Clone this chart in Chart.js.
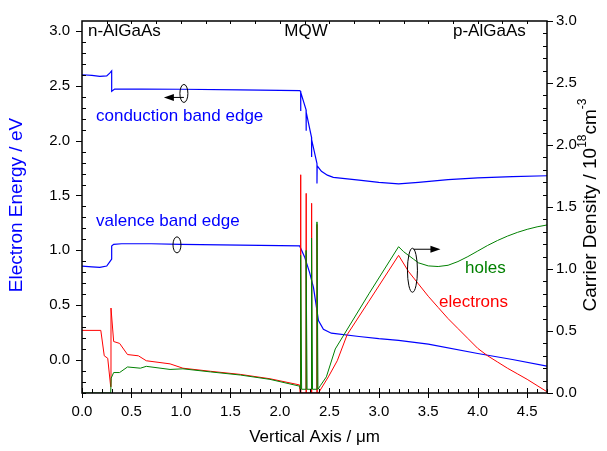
<!DOCTYPE html>
<html>
<head>
<meta charset="utf-8">
<script src="https://cdn.jsdelivr.net/npm/chart.js@4/dist/chart.umd.min.js"></script>
<style>
  html, body { margin: 0; padding: 0; background: #fff; }
  canvas { display: block; }
</style>
</head>
<body>
<canvas id="bandChart" width="607" height="451"></canvas>
<script>
// --- data ---
// conduction band edge (left axis, eV)
const cbX = [0.00, 0.10, 0.18, 0.25, 0.28, 0.30, 0.30, 0.33, 0.60, 1.00, 1.60, 2.20, 2.21, 2.21, 2.212,
  2.265, 2.265, 2.267, 2.32, 2.32, 2.322, 2.375, 2.375, 2.377, 2.42, 2.48, 2.54, 2.80, 3.00, 3.20, 3.40,
  3.70, 4.00, 4.35, 4.70];
const cbE = [2.60, 2.595, 2.585, 2.59, 2.615, 2.635, 2.45, 2.47, 2.47, 2.468, 2.463, 2.455, 2.45, 2.27, 2.44,
  2.28, 2.09, 2.26, 2.03, 1.85, 2.01, 1.79, 1.61, 1.77, 1.72, 1.685, 1.665, 1.64, 1.62, 1.605, 1.62,
  1.645, 1.66, 1.672, 1.68];

// valence band edge (left axis, eV)
const vbX = [0.00, 0.10, 0.18, 0.25, 0.28, 0.30, 0.30, 0.32, 0.40, 0.70, 1.00, 1.60, 2.20, 2.25, 2.30,
  2.34, 2.37, 2.39, 2.44, 2.52, 2.80, 3.00, 3.20, 3.50, 4.00, 4.35, 4.70];
const vbE = [0.857, 0.85, 0.845, 0.857, 0.895, 0.92, 1.04, 1.055, 1.06, 1.06, 1.055, 1.048, 1.04, 0.94, 0.80,
  0.66, 0.48, 0.36, 0.28, 0.245, 0.215, 0.195, 0.18, 0.145, 0.06, 0.005, -0.055];

// electrons (right axis, 10^18 cm^-3)
const elX = [0.00, 0.19, 0.225, 0.26, 0.29, 0.293, 0.32, 0.38, 0.46, 0.57, 0.65, 0.89, 1.02, 1.30, 1.60,
  1.90, 2.20, 2.205, 2.21, 2.21, 2.212, 2.265, 2.265, 2.267, 2.32, 2.32, 2.322, 2.375, 2.375, 2.377,
  2.39, 2.49, 2.58, 2.68, 2.90, 3.20, 3.30, 3.40, 3.50, 3.60, 3.70, 3.80, 3.90, 4.00, 4.10, 4.20,
  4.30, 4.40, 4.50, 4.60, 4.70];
const elN = [0.505, 0.505, 0.30, 0.28, 0.05, 0.685, 0.415, 0.40, 0.31, 0.30, 0.26, 0.235, 0.20, 0.175, 0.15,
  0.115, 0.065, 0.0, 0.0, 1.76, 0.0, 0.0, 1.61, 0.0, 0.0, 1.53, 0.0, 0.0, 1.36, 0.0,
  0.0, 0.13, 0.26, 0.47, 0.74, 1.11, 0.98, 0.88, 0.78, 0.69, 0.60, 0.52, 0.44, 0.36, 0.30, 0.25,
  0.20, 0.155, 0.11, 0.06, 0.01];

// holes (right axis, 10^18 cm^-3)
const hoX = [0.00, 0.29, 0.295, 0.32, 0.38, 0.46, 0.59, 0.65, 0.89, 1.02, 1.30, 1.60, 1.90, 2.20, 2.205,
  2.21, 2.21, 2.22, 2.265, 2.265, 2.275, 2.32, 2.32, 2.33, 2.375, 2.375, 2.385, 2.41, 2.47, 2.56,
  2.64, 2.90, 3.20, 3.25, 3.30, 3.35, 3.40, 3.50, 3.60, 3.70, 3.80, 3.90, 4.00, 4.10, 4.20, 4.30,
  4.40, 4.50, 4.60, 4.70];
const hoN = [0.0, 0.0, 0.12, 0.165, 0.165, 0.21, 0.20, 0.215, 0.19, 0.195, 0.17, 0.145, 0.11, 0.055, 0.03,
  0.03, 1.11, 0.03, 0.03, 1.15, 0.03, 0.03, 1.25, 0.03, 0.03, 1.38, 0.03, 0.06, 0.13, 0.355,
  0.46, 0.80, 1.18, 1.14, 1.11, 1.08, 1.05, 1.025, 1.02, 1.03, 1.06, 1.10, 1.145, 1.19, 1.23, 1.265,
  1.295, 1.32, 1.34, 1.355];

// tick labels
const xTicks = [0.0, 0.5, 1.0, 1.5, 2.0, 2.5, 3.0, 3.5, 4.0, 4.5];
const leftTicks = [0.0, 0.5, 1.0, 1.5, 2.0, 2.5, 3.0];
const rightTicks = [0.0, 0.5, 1.0, 1.5, 2.0, 2.5, 3.0];

const FONT = '"Liberation Sans", Arial, Helvetica, sans-serif';
const BLUE = '#0000ff';
const RED = '#ff0000';
const GREEN = '#008000';

const toPoints = (xs, ys) => xs.map((x, i) => ({ x: x, y: ys[i] }));

// --- frame, ticks, titles and annotations ---
const decorations = {
  id: 'decorations',
  afterDraw(chart) {
    const { ctx, chartArea: a, scales } = chart;
    const sx = scales.x, sl = scales.y, sr = scales.y1;
    ctx.save();

    // frame
    ctx.strokeStyle = '#000';
    ctx.lineWidth = 1.5;
    ctx.strokeRect(a.left, a.top, a.right - a.left, a.bottom - a.top);

    ctx.lineWidth = 1;
    ctx.beginPath();
    // bottom axis: major out, minor in
    for (let i = 0; i <= 47; i++) {
      const px = Math.round(sx.getPixelForValue(i / 10)) + 0.5;
      if (i % 5 === 0) { ctx.moveTo(px, a.bottom - 5); ctx.lineTo(px, a.bottom + 5); }
      else { ctx.moveTo(px, a.bottom); ctx.lineTo(px, a.bottom - 4); }
    }
    // top axis: small ticks every 0.25
    for (let i = 1; i <= 18; i++) {
      const px = Math.round(sx.getPixelForValue(i * 0.25)) + 0.5;
      ctx.moveTo(px, a.top); ctx.lineTo(px, a.top + 3);
    }
    // left axis
    for (let i = -3; i <= 30; i++) {
      const py = Math.round(sl.getPixelForValue(i / 10)) + 0.5;
      if (i % 5 === 0) { ctx.moveTo(a.left - 6, py); ctx.lineTo(a.left, py); }
      else { ctx.moveTo(a.left, py); ctx.lineTo(a.left + 4, py); }
    }
    // right axis
    for (let i = 0; i <= 30; i++) {
      const py = Math.round(sr.getPixelForValue(i / 10)) + 0.5;
      if (i % 5 === 0) { ctx.moveTo(a.right, py); ctx.lineTo(a.right + 6, py); }
      else { ctx.moveTo(a.right - 4, py); ctx.lineTo(a.right, py); }
    }
    ctx.stroke();

    // axis titles
    ctx.font = '17px ' + FONT;
    ctx.textBaseline = 'middle';
    ctx.textAlign = 'center';
    ctx.fillStyle = '#000';
    ctx.fillText('Vertical Axis / \u03bcm', (a.left + a.right) / 2, 437);

    ctx.save();
    ctx.translate(17, 205);
    ctx.rotate(-Math.PI / 2);
    ctx.font = '19px ' + FONT;
    ctx.fillStyle = BLUE;
    ctx.fillText('Electron Energy / eV', 0, 0);
    ctx.restore();

    // right title with superscripts
    ctx.save();
    ctx.translate(591, 205);
    ctx.rotate(-Math.PI / 2);
    ctx.fillStyle = '#000';
    ctx.textAlign = 'left';
    const parts = [
      { t: 'Carrier Density / 10', sup: false },
      { t: '18', sup: true },
      { t: 'cm', sup: false },
      { t: '-3', sup: true }
    ];
    const fontFor = (p) => (p.sup ? '12px ' : '19px ') + FONT;
    let total = 0;
    parts.forEach(p => { ctx.font = fontFor(p); total += ctx.measureText(p.t).width; });
    let cx = -total / 2;
    parts.forEach(p => {
      ctx.font = fontFor(p);
      ctx.fillText(p.t, cx, p.sup ? -8 : 0);
      cx += ctx.measureText(p.t).width;
    });
    ctx.restore();

    // region labels
    ctx.font = '17px ' + FONT;
    ctx.fillStyle = '#000';
    ctx.textAlign = 'left';
    ctx.fillText('n-AlGaAs', 88, 31);
    ctx.fillText('p-AlGaAs', 453, 31);
    ctx.textAlign = 'center';
    ctx.fillText('MQW', 306, 31);

    // curve labels
    ctx.textAlign = 'left';
    ctx.fillStyle = BLUE;
    ctx.fillText('conduction band edge', 96, 116);
    ctx.fillText('valence band edge', 96, 221);
    ctx.fillStyle = GREEN;
    ctx.fillText('holes', 465, 268);
    ctx.fillStyle = RED;
    ctx.fillText('electrons', 439, 302);

    // ellipse markers with arrows (placed in data units)
    ctx.strokeStyle = '#000';
    ctx.fillStyle = '#000';
    ctx.lineWidth = 1;
    const ellipse = (x, y, rx, ry) => {
      ctx.beginPath();
      ctx.ellipse(x, y, rx, ry, 0, 0, Math.PI * 2);
      ctx.stroke();
    };
    const arrow = (x1, y1, x2, y2) => {
      const dir = Math.sign(x2 - x1);
      ctx.beginPath();
      ctx.moveTo(x1, y1);
      ctx.lineTo(x2 - dir * 8, y2);
      ctx.stroke();
      ctx.beginPath();
      ctx.moveTo(x2, y2);
      ctx.lineTo(x2 - dir * 10, y2 - 3.5);
      ctx.lineTo(x2 - dir * 10, y2 + 3.5);
      ctx.closePath();
      ctx.fill();
    };

    const e1x = sx.getPixelForValue(1.03), e1y = sl.getPixelForValue(2.43);
    ellipse(e1x, e1y, 4, 9);
    arrow(e1x, e1y + 4, e1x - 20, e1y + 4);

    const e2x = sx.getPixelForValue(0.96), e2y = sl.getPixelForValue(1.05);
    ellipse(e2x, e2y, 4, 8);

    const e3x = sx.getPixelForValue(3.34), e3y = sr.getPixelForValue(0.99);
    ellipse(e3x, e3y, 5, 22);
    arrow(e3x + 1, e3y - 21, e3x + 28, e3y - 21);

    ctx.restore();
  }
};

const lineSet = (data, color, axis, width) => ({
  data: data,
  yAxisID: axis,
  showLine: true,
  borderColor: color,
  backgroundColor: color,
  borderWidth: width,
  pointRadius: 0,
  tension: 0,
  fill: false
});

new Chart(document.getElementById('bandChart').getContext('2d'), {
  type: 'scatter',
  data: {
    datasets: [
      lineSet(toPoints(hoX, hoN), GREEN, 'y1', 1),
      lineSet(toPoints(elX, elN), RED, 'y1', 1),
      lineSet(toPoints(cbX, cbE), BLUE, 'y', 1.2),
      lineSet(toPoints(vbX, vbE), BLUE, 'y', 1.2)
    ]
  },
  options: {
    responsive: false,
    animation: false,
    devicePixelRatio: 1,
    layout: { padding: { top: 15, left: 0, right: 0, bottom: 0 } },
    plugins: { legend: { display: false }, tooltip: { enabled: false } },
    scales: {
      x: {
        type: 'linear',
        min: 0, max: 4.7,
        grid: { display: false, drawTicks: false },
        border: { display: false },
        ticks: {
          color: '#000', font: { family: FONT, size: 15 }, padding: 10,
          autoSkip: false, maxRotation: 0,
          callback: (v) => v.toFixed(1)
        },
        afterBuildTicks: (s) => { s.ticks = xTicks.map(v => ({ value: v })); },
        afterFit: (s) => { s.height = 58; }
      },
      y: {
        type: 'linear', position: 'left',
        min: -0.3, max: 3.09,
        grid: { display: false, drawTicks: false },
        border: { display: false },
        ticks: {
          color: '#000', font: { family: FONT, size: 15 }, padding: 12,
          callback: (v) => v.toFixed(1)
        },
        afterBuildTicks: (s) => { s.ticks = leftTicks.map(v => ({ value: v })); },
        afterFit: (s) => { s.width = 82; }
      },
      y1: {
        type: 'linear', position: 'right',
        min: 0, max: 3.0,
        grid: { display: false, drawTicks: false },
        border: { display: false },
        ticks: {
          color: '#000', font: { family: FONT, size: 15 }, padding: 9,
          callback: (v) => v.toFixed(1)
        },
        afterBuildTicks: (s) => { s.ticks = rightTicks.map(v => ({ value: v })); },
        afterFit: (s) => { s.width = 60; }
      }
    }
  },
  plugins: [decorations]
});
</script>
</body>
</html>
